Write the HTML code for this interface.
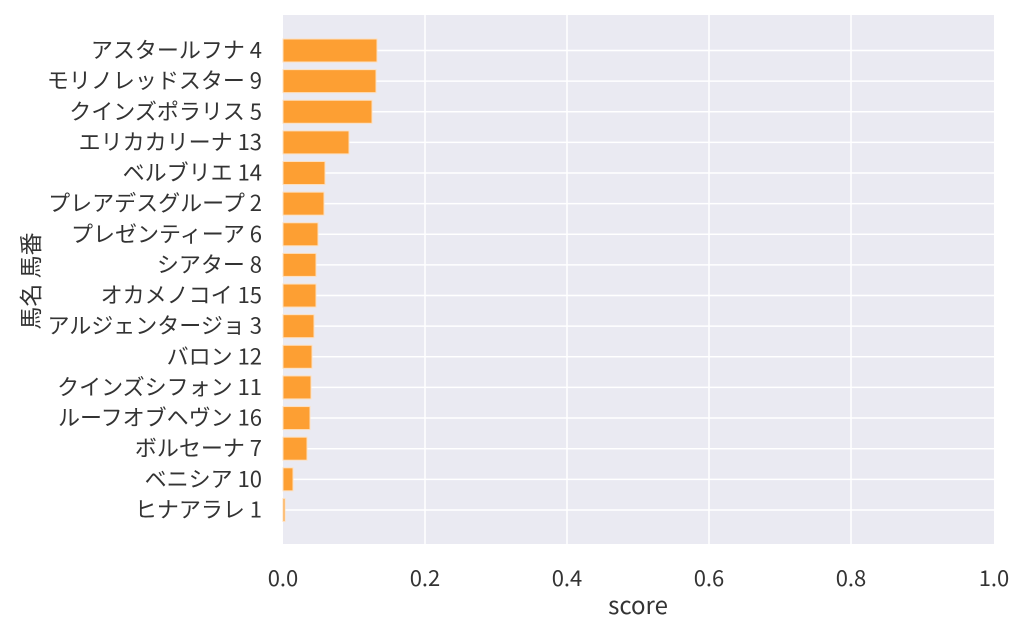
<!DOCTYPE html><html><head><meta charset="utf-8"><style>body{margin:0;background:#fff}</style></head><body>
<svg width="1024" height="634" xmlns="http://www.w3.org/2000/svg" font-family="Liberation Sans, Noto Sans CJK JP, sans-serif">
<rect x="283" y="15" width="711" height="529" fill="#eaeaf2"/>
<g stroke="#fff" stroke-width="1.5">
<line x1="425" y1="15" x2="425" y2="544"/><line x1="567" y1="15" x2="567" y2="544"/><line x1="709" y1="15" x2="709" y2="544"/><line x1="851" y1="15" x2="851" y2="544"/>
</g>
<g id="g"></g>
<text x="638" y="614" font-size="24" fill="#333" text-anchor="middle" font-family="Noto Sans CJK JP, sans-serif">score</text>
<text transform="translate(39,281) rotate(-90)" font-size="23" fill="#333" text-anchor="middle" font-family="Noto Sans CJK JP, sans-serif">馬名 馬番</text>
<g font-size="22" fill="#333" text-anchor="middle" font-family="Noto Sans CJK JP, sans-serif">
<text x="283" y="586">0.0</text><text x="425" y="586">0.2</text><text x="567" y="586">0.4</text><text x="709" y="586">0.6</text><text x="851" y="586">0.8</text><text x="994" y="586">1.0</text></g>
</svg>
<script>
var n=["アスタールフナ 4","モリノレッドスター 9","クインズポラリス 5","エリカカリーナ 13","ベルブリエ 14","プレアデスグループ 2","プレゼンティーア 6","シアター 8","オカメノコイ 15","アルジェンタージョ 3","バロン 12","クインズシフォン 11","ルーフオブヘヴン 16","ボルセーナ 7","ベニシア 10","ヒナアラレ 1"];
var e=[377,376,372,349,325,324,318,316,316,314,312,311,310,307,293,285];
var s="";
for(var i=0;i<16;i++){var c=50.5+i*30.63;
s+='<line x1="283" x2="994" y1="'+c+'" y2="'+c+'" stroke="#fff" stroke-width="1.5"/>';
s+='<rect x="283" y="'+(c-11.5)+'" width="'+(e[i]-283)+'" height="23" fill="#fd9f33" stroke="#fde0c0" stroke-width="1"/>';
s+='<text x="262" y="'+(c+7.5)+'" font-size="22" fill="#333" text-anchor="end" font-family="Noto Sans CJK JP, sans-serif">'+n[i]+'</text>';}
document.getElementById("g").innerHTML=s;
</script>
</body></html>
